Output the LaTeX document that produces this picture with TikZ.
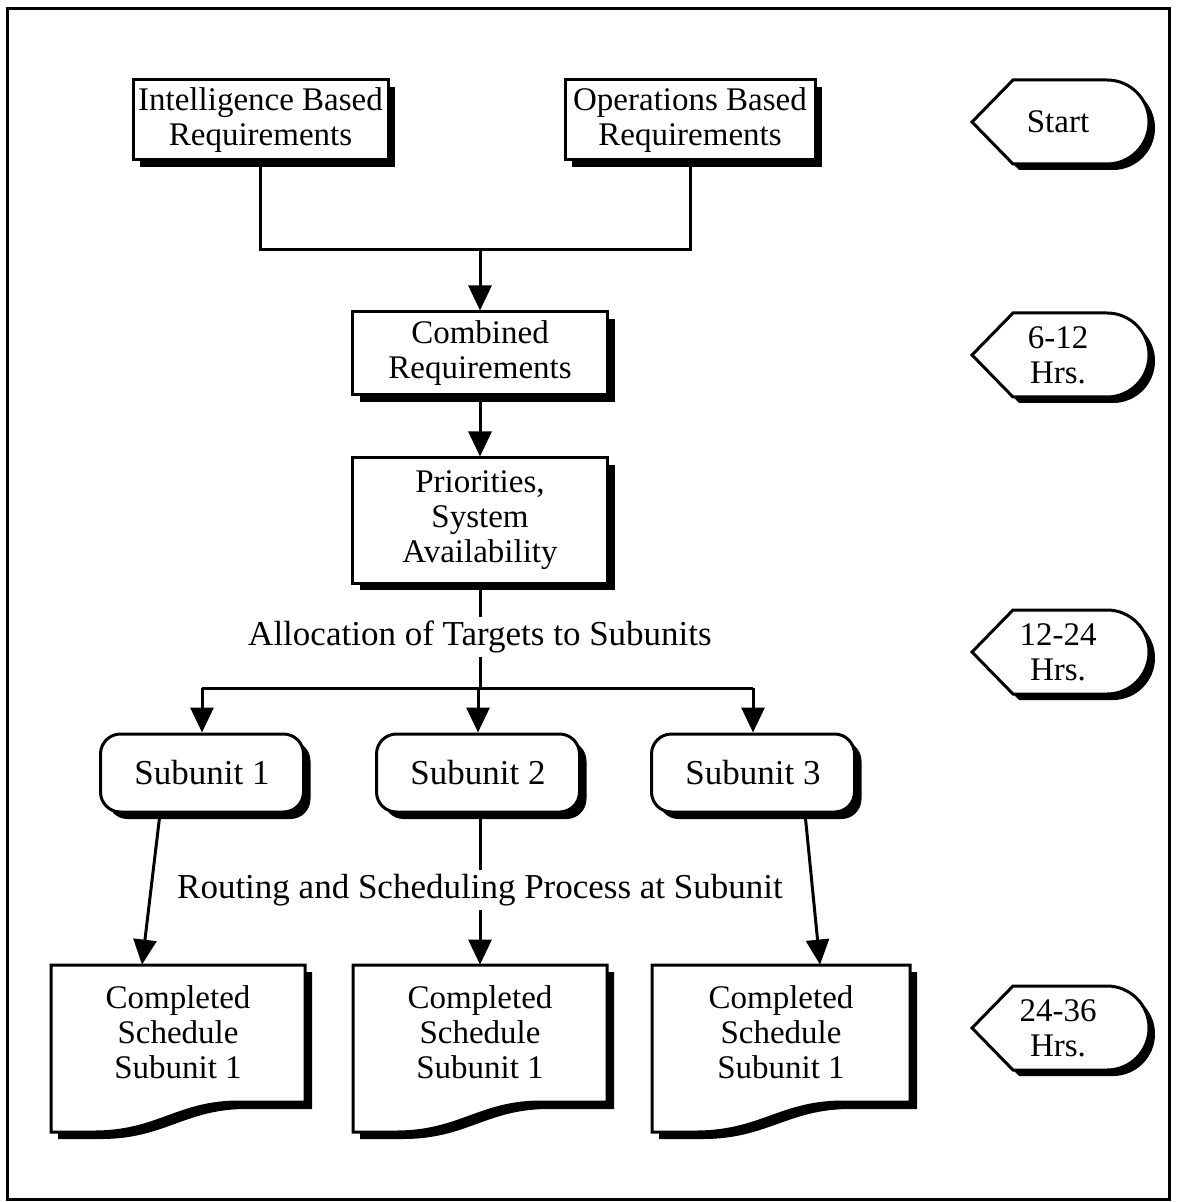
\documentclass[tikz,border=0pt]{standalone}
\usepackage{fontspec}
\setmainfont{Liberation Serif}
\usetikzlibrary{arrows.meta,shadows,calc}
\newcommand\dfont{\fontsize{16.5pt}{17.5pt}\selectfont}
\newcommand\lfont{\fontsize{17.5pt}{18pt}\selectfont}
\newcommand\tagpath{(972,0) -- (1013,-42) -- (1107,-42) arc[start angle=-90,end angle=90,radius=42] -- (1013,42) -- cycle}
\newcommand\docpath[2]{(#1,965) -- (#2,965) -- (#2,1102) -- ({#1+0.74*(#2-#1)},1102) .. controls ({#1+0.50*(#2-#1)},1102) and ({#1+0.42*(#2-#1)},1132) .. ({#1+0.17*(#2-#1)},1132) -- (#1,1132) -- cycle}
\begin{document}
\begin{tikzpicture}[x=0.5pt,y=-0.5pt,
  every node/.style={font=\dfont, align=center, inner sep=0pt},
  box/.style={draw, line width=1.5pt, fill=white, minimum width=127.5pt, minimum height=40pt,
    drop shadow={shadow xshift=3.5pt,shadow yshift=-3.5pt,opacity=1,fill=black}},
  sub/.style={box, font=\lfont, rounded corners=10pt, minimum width=101.5pt, minimum height=39pt},
  docn/.style={minimum width=127pt, minimum height=67.5pt},
  arr/.style={line width=1.5pt, -{Triangle[width=11.5pt,length=12.5pt]}},
  conn/.style={line width=1.5pt},
  lbl/.style={fill=white, inner sep=2pt, font=\lfont},
  outl/.style={line width=1.5pt}
]
\useasboundingbox (0,0) rectangle (1183,1202);
\draw[outl] (7,9) rectangle (1169,1199);

% top boxes
\node[box] (ibr) at (260.5,120) {Intelligence Based\\Requirements};
\node[box, minimum width=125pt] (obr) at (690,120) {Operations Based\\Requirements};
\coordinate (j) at (480,250);
\node[box, minimum height=41.5pt] (comb) at (480,353.5) {Combined\\Requirements};
\node[box, minimum height=62.5pt] (prio) at (480,520.5) {Priorities,\\System\\Availability};

\draw[conn] (ibr.south) |- (j);
\draw[conn] (obr.south) |- (j);
\draw[arr] (j) -- (comb.north);
\draw[arr] (comb.south) -- (prio.north);

% allocation
\coordinate (split) at (480,688);
\node[sub] (s1) at (202,773) {Subunit 1};
\node[sub] (s2) at (478,773) {Subunit 2};
\node[sub] (s3) at (753,773) {Subunit 3};
\draw[conn] (prio.south) -- (split);
\node[lbl] (alloc) at (480,637) {Allocation of Targets to Subunits};
\draw[conn] (split -| s1.north) -- (split -| s3.north);
\draw[arr] (split -| s1.north) -- (s1.north);
\draw[arr] (split) -- (split -| s2.north) -- (s2.north);
\draw[arr] (split -| s3.north) -- (s3.north);

% documents
\foreach \L/\R in {51/305, 353/607, 652/910}{
  \fill[black, shift={(7,7)}] \docpath{\L}{\R};
  \filldraw[fill=white, outl] \docpath{\L}{\R};
}
\node[docn] (d1) at (178,1032.5) {Completed\\Schedule\\Subunit 1};
\node[docn] (d2) at (480,1032.5) {Completed\\Schedule\\Subunit 1};
\node[docn] (d3) at (781,1032.5) {Completed\\Schedule\\Subunit 1};

\draw[arr] ($(s1.south)+(-42,0)$) -- ($(d1.north)+(-36,0)$);
\draw[arr] ($(s2.south)+(2,0)$) -- (d2.north);
\draw[arr] ($(s3.south)+(52,0)$) -- ($(d3.north)+(39,0)$);
\node[lbl] (rout) at (480,890) {Routing and Scheduling Process at Subunit};

% time tags
\foreach \cy in {122,355,652,1028}{
  \fill[black, shift={(6,\cy+6)}] \tagpath;
  \filldraw[fill=white, outl, shift={(0,\cy)}] \tagpath;
}
\node (t0) at (1058,122) {Start};
\node (t1) at (1058,355) {6-12\\Hrs.};
\node (t2) at (1058,652) {12-24\\Hrs.};
\node (t3) at (1058,1028) {24-36\\Hrs.};
\end{tikzpicture}
\end{document}
